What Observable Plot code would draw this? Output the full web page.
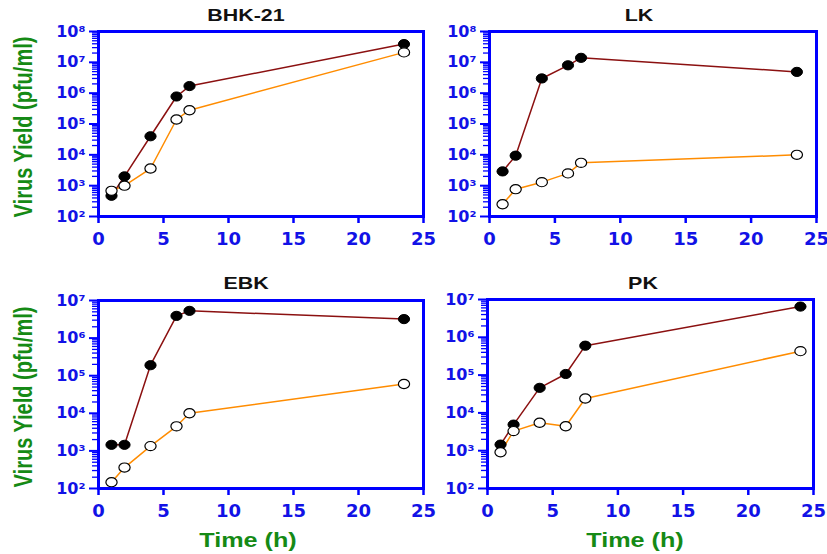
<!DOCTYPE html>
<html>
<head>
<meta charset="utf-8">
<script src="https://cdn.jsdelivr.net/npm/d3@7"></script>
<script src="https://cdn.jsdelivr.net/npm/@observablehq/plot@0.6"></script>
<style>
  body { margin: 0; background: #fff; }
  #wrap { position: relative; width: 827px; height: 554px; overflow: hidden; background: #fff; }
  #wrap svg { position: absolute; }
  .lbl { position: absolute; white-space: nowrap; font-family: "Liberation Sans", Arial, sans-serif; font-weight: bold; line-height: 1; }
  .title { font-size: 17px; color: #111; transform: translate(-50%, -50%) scaleX(1.26); }
  .xlab { font-size: 20px; color: #158a15; transform: translate(-50%, -50%) scaleX(1.26); }
  .ylab { font-size: 20px; color: #158a15; transform: translate(-50%, -50%) rotate(-90deg) scaleY(1.26); }
</style>
</head>
<body>
<div id="wrap"></div>
<script>
// ---- data ----
const panelTitles = ["BHK-21", "LK", "EBK", "PK"];
const timesStd = [1, 2, 4, 6, 7, 23.5];
const timesPK = [1, 2, 4, 6, 7.5, 24];

// filled circles (dark red line)
const bhkFilled = [470, 2000, 40000, 780000, 1.7e6, 3.9e7];
const lkFilled = [2900, 9400, 3.0e6, 8.0e6, 1.4e7, 4.9e6];
const ebkFilled = [1450, 1450, 1.9e5, 3.9e6, 5.3e6, 3.2e6];
const pkFilled = [1450, 4900, 4.6e4, 1.07e5, 6.0e5, 6.5e6];

// open circles (orange line)
const bhkOpen = [680, 1000, 3600, 1.4e5, 2.8e5, 2.1e7];
const lkOpen = [250, 770, 1300, 2500, 5500, 10000];
const ebkOpen = [147, 360, 1340, 4500, 10000, 6.0e4];
const pkOpen = [910, 3300, 5500, 4450, 2.4e4, 4.3e5];

const xTicks = [0, 5, 10, 15, 20, 25];
const yTicksTop = [1e2, 1e3, 1e4, 1e5, 1e6, 1e7, 1e8];
const yTicksBottom = [1e2, 1e3, 1e4, 1e5, 1e6, 1e7];
const yLabel = "Virus Yield (pfu/ml)";
const xLabel = "Time (h)";

// ---- helpers ----
const sup = "⁰¹²³⁴⁵⁶⁷⁸⁹";
const fmtPow = d => "10" + sup[Math.round(Math.log10(d))];
const minorTicks = decades => decades.slice(0, -1).flatMap(d => d3.range(2, 10).map(k => k * d));

const ellipse = {
  draw(ctx) {
    const rx = 5.6, ry = 4.6, k = 0.5523;
    ctx.moveTo(rx, 0);
    ctx.bezierCurveTo(rx, k * ry, k * rx, ry, 0, ry);
    ctx.bezierCurveTo(-k * rx, ry, -rx, k * ry, -rx, 0);
    ctx.bezierCurveTo(-rx, -k * ry, -k * rx, -ry, 0, -ry);
    ctx.bezierCurveTo(k * rx, -ry, rx, -k * ry, rx, 0);
    ctx.closePath();
  }
};

const BLUE = "#0000ff";
const TEXTBLUE = "#1212e6";
const DARKRED = "#8b1010";
const ORANGE = "#ff8c00";
const FONT = "DejaVu Sans";

const panels = [
  {title: panelTitles[0], t: timesStd, filled: bhkFilled, open: bhkOpen, yTicks: yTicksTop,
   left: 0, top: 0, width: 440, height: 250, mL: 98, mR: 17, mT: 31, mB: 34, ylab: true, xlab: false,
   titleX: 246, titleY: 15},
  {title: panelTitles[1], t: timesStd, filled: lkFilled, open: lkOpen, yTicks: yTicksTop,
   left: 400, top: 0, width: 427, height: 250, mL: 89, mR: 11, mT: 31, mB: 34, ylab: false, xlab: false,
   titleX: 639, titleY: 15},
  {title: panelTitles[2], t: timesStd, filled: ebkFilled, open: ebkOpen, yTicks: yTicksBottom,
   left: 0, top: 260, width: 440, height: 294, mL: 98, mR: 17, mT: 40, mB: 66, ylab: true, xlab: true,
   titleX: 246, titleY: 283, ylabY: 397, xlabX: 248},
  {title: panelTitles[3], t: timesPK, filled: pkFilled, open: pkOpen, yTicks: yTicksBottom,
   left: 400, top: 260, width: 427, height: 294, mL: 87, mR: 14, mT: 39, mB: 66, ylab: false, xlab: true,
   titleX: 643, titleY: 283, xlabX: 635}
];
panels[0].ylabY = 127;

const wrap = document.getElementById("wrap");

function addLabel(cls, text, x, y) {
  const d = document.createElement("div");
  d.className = "lbl " + cls;
  d.textContent = text;
  d.style.left = x + "px";
  d.style.top = y + "px";
  wrap.appendChild(d);
}

for (const p of panels) {
  const filledRows = p.t.map((t, i) => ({t, v: p.filled[i]}));
  const openRows = p.t.map((t, i) => ({t, v: p.open[i]}));
  const marks = [
    Plot.axisY({ticks: minorTicks(p.yTicks), tickSize: 6, tickFormat: () => "", stroke: BLUE, strokeWidth: 1.3, label: null}),
    Plot.axisY({ticks: p.yTicks, tickSize: 9, tickPadding: 4, tickFormat: fmtPow, stroke: BLUE, strokeWidth: 2,
      fill: TEXTBLUE, fontSize: 16, fontWeight: "bold", fontFamily: FONT, label: null}),
    Plot.axisX({ticks: xTicks, tickSize: 7, tickPadding: 9, stroke: BLUE, strokeWidth: 2.5,
      fill: TEXTBLUE, fontSize: 18, fontWeight: "bold", fontFamily: FONT, label: null}),
    Plot.line(filledRows, {x: "t", y: "v", stroke: DARKRED, strokeWidth: 1.5}),
    Plot.line(openRows, {x: "t", y: "v", stroke: ORANGE, strokeWidth: 1.5}),
    Plot.dot(filledRows, {x: "t", y: "v", symbol: ellipse, fill: "black", stroke: "black", strokeWidth: 1}),
    Plot.dot(openRows, {x: "t", y: "v", symbol: ellipse, fill: "white", stroke: "black", strokeWidth: 1.2}),
    Plot.frame({stroke: BLUE, strokeWidth: 3})
  ];
  const chart = Plot.plot({
    width: p.width,
    height: p.height,
    marginLeft: p.mL,
    marginRight: p.mR,
    marginTop: p.mT,
    marginBottom: p.mB,
    x: {domain: [0, 25]},
    y: {type: "log", domain: [p.yTicks[0], p.yTicks[p.yTicks.length - 1]]},
    style: {background: "transparent", overflow: "visible", color: BLUE, fontFamily: FONT},
    marks
  });
  chart.style.left = p.left + "px";
  chart.style.top = p.top + "px";
  wrap.appendChild(chart);

  addLabel("title", p.title, p.titleX, p.titleY);
  if (p.ylab) addLabel("ylab", yLabel, 23, p.ylabY);
  if (p.xlab) addLabel("xlab", xLabel, p.xlabX, 540);
}
</script>
</body>
</html>
